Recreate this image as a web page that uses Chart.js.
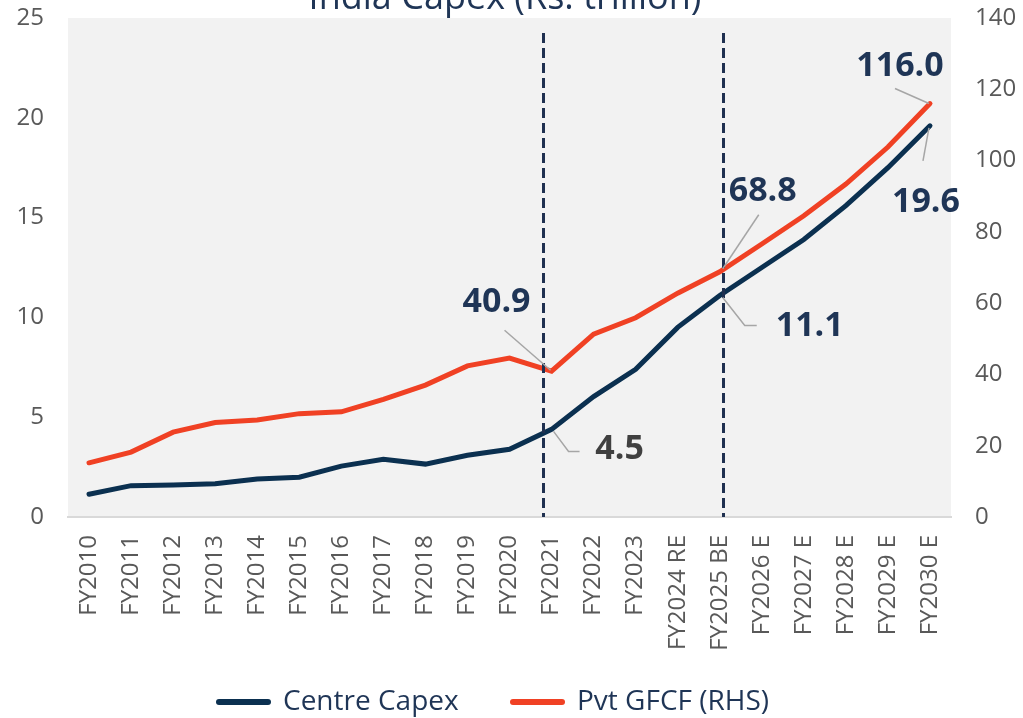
<!DOCTYPE html>
<html lang="en">
<head>
<meta charset="UTF-8">
<title>India Capex</title>
<script src="https://cdn.jsdelivr.net/npm/chart.js@4"></script>
<style>
  * { margin: 0; padding: 0; box-sizing: border-box; }
  body { background: #fff; width: 1023px; height: 718px; overflow: hidden; }
  canvas { display: block; }
</style>
</head>
<body>
<canvas id="capexChart" width="1023" height="718"></canvas>
<script>
const years = ['FY2010', 'FY2011', 'FY2012', 'FY2013', 'FY2014', 'FY2015', 'FY2016', 'FY2017', 'FY2018', 'FY2019', 'FY2020',
  'FY2021', 'FY2022', 'FY2023', 'FY2024 RE', 'FY2025 BE', 'FY2026 E', 'FY2027 E', 'FY2028 E', 'FY2029 E', 'FY2030 E'];
const centreCapex = [1.14, 1.57, 1.6, 1.67, 1.9, 1.99, 2.55, 2.89, 2.65, 3.09, 3.39, 4.39, 6.03, 7.4, 9.5, 11.1, 12.5, 13.9, 15.6, 17.5, 19.6];
const pvtGfcf = [15.2, 18.2, 23.8, 26.5, 27.2, 29.0, 29.5, 33.0, 37.0, 42.4, 44.6, 40.9, 51.3, 55.9, 62.8, 68.8, 76.6, 84.5, 93.4, 103.8, 116.0];
const leftTicks = [0, 5, 10, 15, 20, 25];
const rightTicks = [0, 20, 40, 60, 80, 100, 120, 140];

// callout labels: text, dataset index, category index
const calloutText = ['40.9', '4.5', '68.8', '11.1', '116.0', '19.6'];
const calloutSeries = [1, 0, 1, 0, 1, 0];
const calloutIndex = [11, 11, 15, 15, 20, 20];
// positions of the two dashed marker lines (category units)
const markerAt = [10.8, 15.07];

const NAVY = '#0b3050';
const RED = '#f04124';
const LABEL = '#1f3556';
const TICK = '#595959';

// offsets of each callout from its point: label centre, leader polyline
const calloutStyle = [
  { dx: -55, dy: -69, color: LABEL, leader: [[-47, -41], [-1, -1]] },
  { dx: 68, dy: 20, color: '#404040', leader: [[2, 2], [17, 22], [28, 22]] },
  { dx: 43, dy: -80, color: LABEL, leader: [[39, -57], [3, -3]] },
  { dx: 90, dy: 31, color: LABEL, leader: [[3, 2], [25, 30], [37, 30]] },
  { dx: -30, dy: -37, color: LABEL, leader: [[-35, -15], [-1, 0]] },
  { dx: -4, dy: 77, color: LABEL, leader: [[-7, 35], [-1, 2]] },
];

// legend item left edges (line sample start) and baseline centre
const legendX = [216, 510];
const legendY = 702;

const extras = {
  id: 'extras',
  beforeDraw(chart) {
    const { ctx, chartArea: a } = chart;
    ctx.save();
    ctx.fillStyle = '#f2f2f2';
    ctx.fillRect(a.left, a.top, a.right - a.left, a.bottom - a.top);
    // title, cut off at the top as in the source
    ctx.fillStyle = LABEL;
    ctx.font = '36px "Open Sans"';
    ctx.textAlign = 'center';
    ctx.textBaseline = 'alphabetic';
    ctx.fillText('India Capex (Rs. trillion)', 505, 9);
    ctx.restore();
  },
  afterDatasetsDraw(chart) {
    const { ctx, chartArea: a, scales } = chart;
    ctx.save();
    ctx.strokeStyle = '#1f3050';
    ctx.lineWidth = 3;
    ctx.setLineDash([10, 5]);
    for (const m of markerAt) {
      const x = Math.round(scales.x.getPixelForValue(m)) + 0.5;
      ctx.beginPath();
      ctx.moveTo(x, a.top + 15);
      ctx.lineTo(x, a.bottom);
      ctx.stroke();
    }
    ctx.setLineDash([]);

    calloutText.forEach((t, i) => {
      const ds = calloutSeries[i];
      const px = scales.x.getPixelForValue(calloutIndex[i]);
      const py = (ds === 0 ? scales.y : scales.y1).getPixelForValue(chart.data.datasets[ds].data[calloutIndex[i]]);
      const s = calloutStyle[i];
      ctx.strokeStyle = '#a6a6a6';
      ctx.lineWidth = 1.5;
      ctx.beginPath();
      s.leader.forEach(([lx, ly], k) => {
        if (k === 0) ctx.moveTo(px + lx, py + ly);
        else ctx.lineTo(px + lx, py + ly);
      });
      ctx.stroke();
      ctx.fillStyle = s.color;
      ctx.font = 'bold 34px "Open Sans"';
      ctx.textAlign = 'center';
      ctx.textBaseline = 'middle';
      ctx.fillText(t, px + s.dx, py + s.dy);
    });
    ctx.restore();
  },
  afterDraw(chart) {
    // legend
    const { ctx } = chart;
    ctx.save();
    ctx.font = '28px "Open Sans"';
    ctx.textAlign = 'left';
    ctx.textBaseline = 'middle';
    chart.data.datasets.forEach((ds, i) => {
      const x = legendX[i];
      ctx.strokeStyle = ds.borderColor;
      ctx.lineWidth = 6;
      ctx.lineCap = 'round';
      ctx.beginPath();
      ctx.moveTo(x + 3, legendY);
      ctx.lineTo(x + 52, legendY);
      ctx.stroke();
      ctx.fillStyle = LABEL;
      ctx.fillText(ds.label, x + 67, legendY);
    });
    ctx.restore();
  }
};

new Chart(document.getElementById('capexChart'), {
  type: 'line',
  data: {
    labels: years,
    datasets: [{
      label: 'Centre Capex',
      data: centreCapex,
      yAxisID: 'y',
      borderColor: NAVY,
      backgroundColor: NAVY,
      borderWidth: 5,
      pointRadius: 0,
      borderCapStyle: 'round',
      tension: 0,
    }, {
      label: 'Pvt GFCF (RHS)',
      data: pvtGfcf,
      yAxisID: 'y1',
      borderColor: RED,
      backgroundColor: RED,
      borderWidth: 5,
      pointRadius: 0,
      borderCapStyle: 'round',
      tension: 0,
    }]
  },
  options: {
    responsive: false,
    animation: false,
    layout: { padding: { top: 18, left: 0, right: 0, bottom: 40 } },
    plugins: {
      title: { display: false },
      tooltip: { enabled: false },
      legend: { display: false }
    },
    scales: {
      x: {
        offset: true,
        grid: { display: false, drawTicks: false },
        border: { display: true, color: '#d9d9d9', width: 2 },
        ticks: {
          color: TICK,
          font: { family: 'Open Sans', size: 24 },
          minRotation: 90,
          maxRotation: 90,
          autoSkip: false,
          padding: 18,
        },
        afterFit(scale) {
          scale.height = 161;
          scale.paddingLeft = 0;
          scale.paddingRight = 0;
        }
      },
      y: {
        position: 'left',
        min: 0,
        max: 25,
        afterBuildTicks(scale) { scale.ticks = leftTicks.map(v => ({ value: v })); },
        grid: { display: false, drawTicks: false },
        border: { display: false },
        ticks: { color: TICK, font: { family: 'Open Sans', size: 24 }, padding: 24 },
        afterFit(scale) {
          scale.width = 68;
          scale.paddingTop = 0;
          scale.paddingBottom = 0;
        }
      },
      y1: {
        position: 'right',
        min: 0,
        max: 140,
        afterBuildTicks(scale) { scale.ticks = rightTicks.map(v => ({ value: v })); },
        grid: { display: false, drawTicks: false },
        border: { display: false },
        ticks: { color: TICK, font: { family: 'Open Sans', size: 24 }, padding: 24 },
        afterFit(scale) {
          scale.width = 72;
          scale.paddingTop = 0;
          scale.paddingBottom = 0;
        }
      }
    }
  },
  plugins: [extras]
});
</script>
</body>
</html>
